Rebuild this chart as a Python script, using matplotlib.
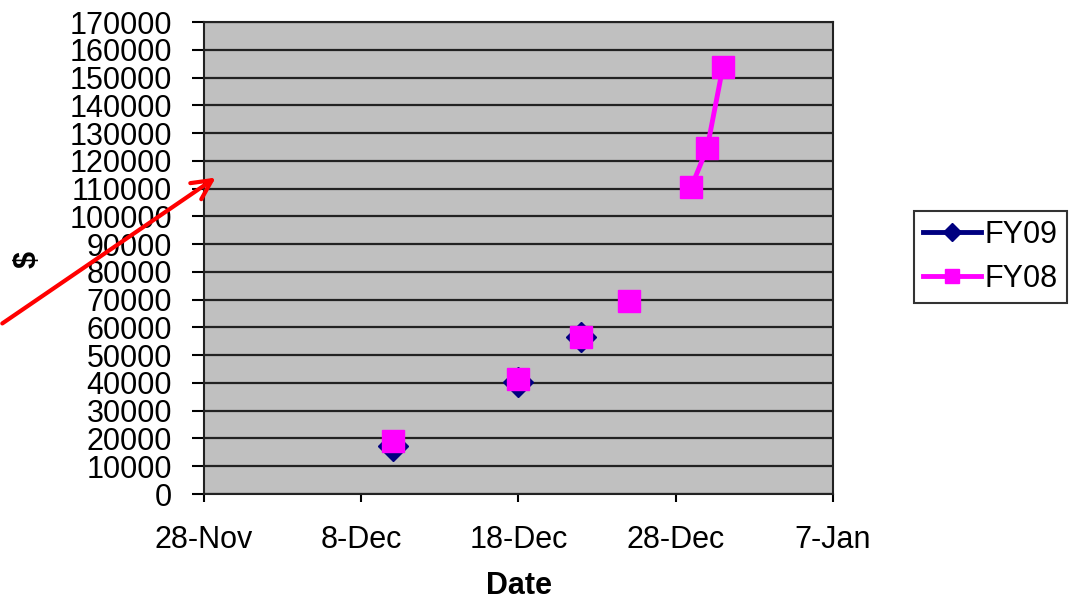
import datetime as dt
import numpy as np
import matplotlib.pyplot as plt

# dates of the readings (Dec 2008); gaps are days with no reading
dates = [dt.date(2008, 12, d) for d in range(10, 32)]
fy09 = {10: 17400, 18: 40500, 22: 56700}
fy08 = {10: 19200, 18: 41400, 22: 56700, 25: 69600, 29: 110700, 30: 124600, 31: 153900}

tick_dates = [dt.date(2008, 11, 28), dt.date(2008, 12, 8), dt.date(2008, 12, 18),
              dt.date(2008, 12, 28), dt.date(2009, 1, 7)]
tick_labels = ['28-Nov', '8-Dec', '18-Dec', '28-Dec', '7-Jan']


def series(values):
    return np.array([values.get(d.day, np.nan) for d in dates], dtype=float)


def main():
    plt.rcParams['font.family'] = ['Liberation Sans', 'DejaVu Sans']
    fig = plt.figure(figsize=(10.82, 6.02), dpi=100)
    ax = fig.add_axes([204 / 1082, 108 / 602, 629 / 1082, 472 / 602])
    ax.set_facecolor('#c0c0c0')

    ax.plot(dates, series(fy09), color='#000080', marker='D', markersize=15,
            linewidth=3.5, label='FY09', zorder=3)
    ax.plot(dates, series(fy08), color='#ff00ff', marker='s', markersize=16,
            linewidth=3.5, label='FY08', zorder=4)

    ax.set_xlim(tick_dates[0], tick_dates[-1])
    ax.set_xticks(tick_dates)
    ax.set_xticklabels(tick_labels)
    ax.set_ylim(0, 170000)
    ax.set_yticks(np.arange(0, 170001, 10000))
    ax.yaxis.grid(True, color='#222222', linewidth=1.6)
    ax.set_axisbelow(True)
    ax.tick_params(axis='both', labelsize=22, width=1.5, colors='black')
    ax.tick_params(axis='y', length=9, pad=14)
    ax.tick_params(axis='x', length=6, pad=16)
    for s in ax.spines.values():
        s.set_color('#222222')
        s.set_linewidth(1.5)

    ax.set_xlabel('Date', fontsize=22, fontweight='bold', labelpad=12)
    fig.text(28 / 1082, 1 - 260 / 602, '$', fontsize=22, fontweight='bold',
             rotation=90, ha='center', va='center')

    leg = fig.legend(loc='upper left', bbox_to_anchor=(914 / 1082, 1 - 211 / 602),
                     fontsize=22, frameon=True, fancybox=False, edgecolor='black',
                     handlelength=1.9, handletextpad=0.1, borderpad=0.3,
                     labelspacing=0.45, markerscale=0.6, borderaxespad=0)
    leg.get_frame().set_linewidth(1.5)

    ax.annotate('', xy=(218, 602 - 176), xytext=(0, 602 - 325),
                xycoords='figure pixels', textcoords='figure pixels',
                arrowprops=dict(arrowstyle='->', color='red', lw=3,
                                mutation_scale=35), annotation_clip=False)

    fig.savefig('out.png', dpi=100)


if __name__ == '__main__':
    main()
